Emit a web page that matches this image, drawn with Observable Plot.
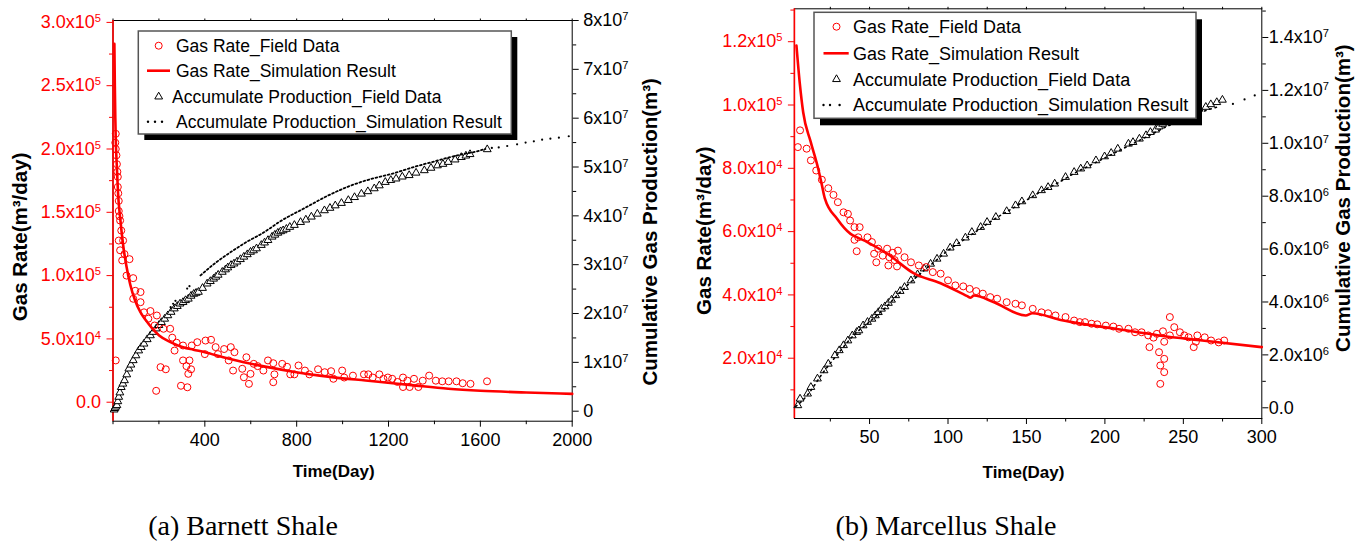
<!DOCTYPE html>
<html>
<head>
<meta charset="utf-8">
<script src="https://cdn.jsdelivr.net/npm/d3@7"></script>
<script src="https://cdn.jsdelivr.net/npm/@observablehq/plot@0.6"></script>
<style>
  html, body { margin: 0; padding: 0; background: #fff; }
  body { width: 1359px; height: 544px; position: relative; overflow: hidden;
         font-family: "Liberation Sans", Arial, sans-serif; }
  .panel { position: absolute; top: 0; }
  .panel svg { overflow: visible; }
  .cap { position: absolute; top: 510px; font-family: "Liberation Serif", "Times New Roman", serif;
         font-size: 28px; color: #000; white-space: nowrap; transform: translateX(-50%); }
  .leg { position: absolute; left: 0; top: 0; overflow: visible; z-index: 5; }
</style>
</head>
<body>
<div id="pa" class="panel" style="left:0px"></div>
<div id="pb" class="panel" style="left:680px"></div>
<div class="cap" style="left:243px">(a) Barnett Shale</div>
<div class="cap" style="left:946px">(b) Marcellus Shale</div>
<svg id="leg" class="leg" width="1359" height="544"></svg>
<script>
const RED = "#ff0000";

// ---------------- (a) Barnett Shale ----------------
const barnettRateSim = [[6,283000],[8,250000],[10,225000],[12,208000],[17,185000],[22,165000],[31,146000],[45,123000],[59,107000],[75,93000],[97,80000],[120,71000],[144,64500],[170,58500],[201,52700],[250,47500],[305,43500],[350,41500],[400,39500],[480,35500],[570,31600],[680,27500],[798,23700],[900,21000],[1000,18800],[1100,17200],[1176,15800],[1300,13500],[1460,10600],[1600,9000],[1800,7700],[2000,6600]];

const barnettRateField = [[10,205000],[12,212000],[12,200000],[15,195000],[17,188000],[19,182000],[21,178000],[21,170000],[23,165000],[25,159000],[25,151000],[28,147000],[31,143500],[36,135600],[25,127700],[44,127700],[31,120000],[50,117000],[40,112000],[72,113000],[59,100000],[88,98000],[88,81700],[97,88000],[120,87000],[120,79000],[135,71000],[163,72000],[154,66000],[191,68500],[181,60600],[220,58000],[249,58000],[258,51000],[277,47000],[268,40800],[305,44800],[343,44800],[367,47400],[400,38000],[403,48700],[427,49300],[447,43500],[457,38000],[484,42000],[513,43500],[529,39500],[504,33000],[523,25000],[581,35500],[563,26400],[570,19700],[592,14500],[599,22400],[613,30300],[630,28500],
[12,33000],[188,9000],[207,27700],[230,26000],[296,13000],[324,11800],[305,33000],[320,28500],[333,33000],[328,22400],[340,26000],
[655,25000],[675,33000],[698,30800],[703,22000],[698,15800],[737,30300],[758,28000],[772,22000],[790,22000],[808,29000],[836,25000],[855,22000],[893,26000],[922,23700],[950,24500],[960,18500],[998,25000],[1007,19500],[1045,21000],[1093,22000],[1112,22000],[1131,19500],[1160,22000],[1178,18500],[1197,19500],[1216,18500],[1239,16000],[1263,19500],[1263,12000],[1282,17000],[1292,12000],[1311,18500],[1330,12000],[1349,17000],[1377,21000],[1406,17000],[1434,16500],[1462,16500],[1496,16500],[1523,15000],[1557,14500],[1629,16500]];

const barnettCumField = [[5,0.3e6],[8,0.6e6],[12,0.9e6],[17,1.2e6],[21,2.0e6],[25,2.9e6],[30,3.8e6],[36,4.9e6],[43,5.6e6],[50,6.3e6],[60,7.5e6],[69,8.7e6],[78,9.5e6],[88,10.4e6],[100,11.4e6],[112,12.4e6],[123,13.1e6],[135,13.8e6],[149,14.7e6],[163,15.5e6],[175,16.2e6],[188,16.9e6],[200,17.6e6],[211,18.2e6],[225,18.9e6],[239,19.6e6],[253,20.3e6],[267,21.0e6],[280,21.5e6],[292,22.0e6],[305,22.3e6],[316,22.7e6],[328,23.0e6],[340,23.6e6],[352,24.0e6],[362,24.2e6],[372,24.4e6],[390,25.2e6],[410,26.1e6],[424,26.6e6],[438,27.1e6],[448,27.5e6],[458,27.9e6],[476,28.5e6],[490,29.0e6],[500,29.4e6],[514,29.9e6],[527,30.2e6],[540,30.6e6],[555,31.1e6],[570,31.6e6],[585,32.1e6],[599,32.6e6],[612,32.9e6],[625,33.3e6],[646,34.0e6],[660,34.5e6],[675,35.0e6],[693,35.7e6],[705,36.1e6],[718,36.5e6],[730,36.8e6],[741,37.0e6],[755,37.3e6],[770,37.7e6],[790,38.1e6],[817,38.7e6],[840,39.2e6],[864,39.8e6],[890,40.4e6],[921,41.1e6],[945,41.6e6],[968,42.1e6],[995,42.6e6],[1025,43.2e6],[1052,43.8e6],[1082,44.5e6],[1110,45.0e6],[1138,45.6e6],[1160,46.2e6],[1186,46.9e6],[1210,47.3e6],[1233,47.6e6],[1260,48.0e6],[1290,48.3e6],[1320,48.8e6],[1356,49.3e6],[1385,49.8e6],[1413,50.3e6],[1437,50.6e6],[1460,51.0e6],[1490,51.5e6],[1517,52.0e6],[1537,52.3e6],[1555,52.6e6],[1630,53.6e6]];

const barnettCumSimDense = [[381,27.8e6],[450,30.5e6],[520,32.8e6],[580,34.6e6],[646,36.3e6],[740,39.2e6],[835,41.6e6],[930,44.0e6],[1025,46.0e6],[1120,47.5e6],[1214,48.6e6],[1310,50.0e6],[1404,51.2e6],[1500,52.4e6],[1593,53.3e6],[1622,53.7e6]];
const barnettCumSimDots = [[251,21.3e6],[262,22.0e6],[272,22.6e6],[323,25.1e6],[333,25.6e6],[1650,53.9e6],[1680,54.0e6],[1717,54.3e6],[1760,54.65e6],[1797,55.0e6],[1833,55.26e6],[1869,55.6e6],[1905,55.8e6],[1942,56.0e6],[1985,56.3e6]];

const barnettXTicks = [400, 800, 1200, 1600, 2000];
const barnettXMinor = [0, 200, 600, 1000, 1400, 1800];
const barnettRateTicks = [0, 5e4, 1e5, 1.5e5, 2e5, 2.5e5, 3e5];
const barnettRateLabels = ["0.0", "5.0x10^4", "1.0x10^5", "1.5x10^5", "2.0x10^5", "2.5x10^5", "3.0x10^5"];
const barnettRateMinor = [2.5e4, 7.5e4, 1.25e5, 1.75e5, 2.25e5, 2.75e5];
const barnettCumTicks = [0, 1e7, 2e7, 3e7, 4e7, 5e7, 6e7, 7e7, 8e7];
const barnettCumLabels = ["0", "1x10^7", "2x10^7", "3x10^7", "4x10^7", "5x10^7", "6x10^7", "7x10^7", "8x10^7"];
const barnettCumMinor = [5e6, 1.5e7, 2.5e7, 3.5e7, 4.5e7, 5.5e7, 6.5e7, 7.5e7];

// ---------------- (b) Marcellus Shale ----------------
const marcellusRateSim = [[3.4,118800],[5.5,107000],[7.7,97700],[12.4,88500],[17,80400],[19.5,75000],[21.5,70500],[29.4,64000],[37.9,59300],[42.1,58200],[48.5,56700],[61.3,53000],[78.3,46800],[95.3,43700],[112.3,39600],[114.4,39100],[116.5,39800],[129.3,37700],[149.5,33500],[153.8,34200],[171.8,32100],[179,31400],[206.8,29300],[234.5,27200],[262,25600],[300,23500]];

const marcellusRateField = [[4.3,86700],[5.7,92000],[9.9,86200],[12.6,82500],[16,79300],[19.6,76400],[23.7,73700],[27,71600],[29.8,69300],[33.4,66100],[36.2,65600],[37.6,63500],[40.4,61400],[43.7,61400],[40.4,57400],[42.8,58200],[41.8,53800],[48.7,58200],[51.5,56700],[52.9,53000],[54.3,50300],[55.6,54600],[58.4,52400],[61.2,54600],[62.6,51900],[62,49300],[64.8,53300],[66,51000],[67.5,49000],[68.1,54000],[72.3,51900],[76.4,50300],[81.4,49300],[86.1,48800],[90.3,47200],[95.3,46700],[100,44600],[104.7,43000],[109.7,42700],[113.8,41900],[118,41200],[122.2,40400],[126.9,39300],[131.3,38800],[137.4,37700],[143,37200],[147.1,36700],[154,35600],[159.6,34500],[163.8,34200],[168.5,33500],[174.9,33000],[180.4,31900],[184,31400],[187.3,31400],[191.5,30900],[195.1,30700],[200.6,30300],[205.4,30000],[209,29300],[215,29300],[219.2,28200],[223.4,28200],[227.6,27200],[228.4,23500],[231,26500],[233.1,27700],[234.5,21900],[235.3,17700],[235.3,11900],[237,28500],[237.8,19800],[237.8,15600],[237.8,25200],[241.4,33000],[241.4,27200],[244.2,29800],[247.8,28200],[250.6,27200],[253.3,26600],[256.6,23500],[258,25200],[258.9,27200],[263.6,26600],[267.7,25600],[272.5,25000],[276,25600]];

const marcellusCumField = [[4.3,0.09e6],[5.7,0.34e6],[10.5,0.53e6],[12.6,0.78e6],[16.8,1.1e6],[21,1.41e6],[23.7,1.66e6],[27.9,1.98e6],[30.7,2.17e6],[33.4,2.36e6],[36.2,2.54e6],[39,2.73e6],[41.8,2.86e6],[43.2,2.92e6],[45.9,3.11e6],[48.7,3.24e6],[51.5,3.36e6],[53.7,3.49e6],[55.6,3.61e6],[57.6,3.74e6],[59.8,3.83e6],[62,3.96e6],[64,4.08e6],[66.7,4.25e6],[69.5,4.41e6],[72.3,4.56e6],[76.4,4.81e6],[80.6,5.04e6],[84.8,5.26e6],[88.9,5.44e6],[93,5.63e6],[97.2,5.82e6],[101.4,6.05e6],[105.5,6.22e6],[111.1,6.43e6],[115.2,6.64e6],[120.8,6.83e6],[124.9,7.02e6],[130.5,7.21e6],[137.4,7.43e6],[143,7.65e6],[147.1,7.8e6],[154,8.03e6],[159.6,8.22e6],[163.8,8.34e6],[168,8.47e6],[174.9,8.72e6],[180.4,8.91e6],[184.6,9.04e6],[188.7,9.16e6],[194.3,9.35e6],[199.8,9.5e6],[204,9.63e6],[208.2,9.79e6],[215,9.98e6],[217.9,10.04e6],[222,10.17e6],[226.2,10.3e6],[229,10.42e6],[232.3,10.51e6],[234.5,10.63e6],[236.8,10.73e6],[242.8,10.8e6],[250,11.0e6],[255,11.15e6],[260,11.3e6],[264.3,11.37e6],[267.5,11.47e6],[271.3,11.55e6],[274.9,11.64e6]];

const marcellusCumSimDense = [[3,0.05e6],[10,0.45e6],[20,1.3e6],[30,2.05e6],[40,2.75e6],[50,3.25e6],[60,3.78e6],[70,4.4e6],[80,4.95e6],[90,5.45e6],[100,5.95e6],[110,6.35e6],[120,6.75e6],[130,7.15e6],[140,7.5e6],[150,7.85e6],[160,8.2e6],[170,8.5e6],[180,8.85e6],[190,9.15e6],[200,9.45e6],[210,9.75e6],[220,10.05e6],[230,10.35e6],[240,10.65e6],[250,10.9e6],[260,11.15e6],[272,11.38e6]];
const marcellusCumSimDots = [[281.6,11.49e6],[289,11.66e6],[295.5,11.81e6]];

const marcellusXTicks = [50, 100, 150, 200, 250, 300];
const marcellusXMinor = [25, 75, 125, 175, 225, 275];
const marcellusRateTicks = [2e4, 4e4, 6e4, 8e4, 1e5, 1.2e5];
const marcellusRateLabels = ["2.0x10^4", "4.0x10^4", "6.0x10^4", "8.0x10^4", "1.0x10^5", "1.2x10^5"];
const marcellusRateMinor = [1e4, 3e4, 5e4, 7e4, 9e4, 1.1e5, 1.3e5];
const marcellusCumTicks = [0, 2e6, 4e6, 6e6, 8e6, 1e7, 1.2e7, 1.4e7];
const marcellusCumLabels = ["0.0", "2.0x10^6", "4.0x10^6", "6.0x10^6", "8.0x10^6", "1.0x10^7", "1.2x10^7", "1.4x10^7"];
const marcellusCumMinor = [1e6, 3e6, 5e6, 7e6, 9e6, 1.1e7, 1.3e7, 1.5e7];

const legendLabels = ["Gas Rate_Field Data", "Gas Rate_Simulation Result", "Accumulate Production_Field Data", "Accumulate Production_Simulation Result"];

// ---------------- helpers ----------------
function supify(svg) {
  d3.select(svg).selectAll("text").each(function () {
    const s = this.textContent;
    if (!s.includes("^")) return;
    const [a, b] = s.split("^");
    const t = d3.select(this);
    t.text(null);
    t.append("tspan").text(a);
    t.append("tspan").attr("dy", "-0.55em").attr("font-size", "0.62em").text(b);
  });
}

function panel(cfg) {
  const y2 = d3.scaleLinear().domain(cfg.cumDomain).range(cfg.rateDomain);
  const rateMap = new Map(cfg.rateTicks.map((v, i) => [v, cfg.rateLabels[i]]));
  const cumPos = cfg.cumTicks.map(y2);
  const cumMap = new Map(cumPos.map((v, i) => [v, cfg.cumLabels[i]]));
  const fx = d => d[0], fq = d => d[1], fc = d => y2(d[1]);
  const ax = {fontSize: 18, label: null};
  const svg = Plot.plot({
    width: cfg.width, height: 490,
    marginLeft: cfg.mL, marginRight: cfg.mR, marginTop: cfg.mT, marginBottom: cfg.mB,
    style: {fontFamily: "'Liberation Sans', Arial, sans-serif", background: "transparent", color: "#000", overflow: "visible"},
    x: {domain: cfg.xDomain},
    y: {domain: cfg.rateDomain},
    marks: [
      Plot.axisX(cfg.xMinor, {...ax, anchor: "bottom", tickSize: 3.5, tickFormat: () => ""}),
      Plot.axisX(cfg.xTicks, {...ax, anchor: "bottom", tickSize: 6, tickPadding: 6, tickFormat: d => String(d)}),
      Plot.axisX(cfg.xTicks.concat(cfg.xMinor), {...ax, anchor: "top", tickSize: 2.5, tickFormat: () => ""}),
      Plot.axisY(cfg.rateMinor, {...ax, anchor: "left", tickSize: 3.5, color: RED, tickFormat: () => ""}),
      Plot.axisY(cfg.rateTicks, {...ax, anchor: "left", tickSize: 6, tickPadding: 6, color: RED, tickFormat: d => rateMap.get(d)}),
      Plot.axisY(cfg.cumMinor.map(y2), {...ax, anchor: "right", tickSize: 3.5, tickFormat: () => ""}),
      Plot.axisY(cumPos, {...ax, anchor: "right", tickSize: 6, tickPadding: cfg.rPad, tickFormat: d => cumMap.get(d)}),
      Plot.frame({stroke: "#000", strokeWidth: 1}),
      Plot.ruleX([cfg.xDomain[0]], {stroke: RED, strokeWidth: 1.6}),
      Plot.dot(cfg.cumField, {x: fx, y: fc, symbol: "triangle", r: 2.9, stroke: "#000", strokeWidth: 1, fill: "#fff"}),
      Plot.line(cfg.cumSimDense, {x: fx, y: fc, stroke: "#000", strokeWidth: cfg.dashW, strokeDasharray: cfg.dash, curve: "monotone-x"}),
      Plot.dot(cfg.cumSimDots, {x: fx, y: fc, r: 1.1, fill: "#000"}),
      Plot.dot(cfg.rateField, {x: fx, y: fq, r: 3.5, stroke: RED, strokeWidth: 1, fill: "none"}),
      Plot.line(cfg.rateSim, {x: fx, y: fq, stroke: RED, strokeWidth: 2.6, curve: "monotone-x"}),
      Plot.text(["Gas Rate(m³/day)"], {text: d => d, frameAnchor: "left", dx: cfg.tL[0], dy: cfg.tL[1], rotate: -90, textAnchor: "middle", fontWeight: "bold", fontSize: 20.5, fill: "#000"}),
      Plot.text(["Cumulative Gas Production(m³)"], {text: d => d, frameAnchor: "right", dx: cfg.tR[0], dy: cfg.tR[1], rotate: -90, textAnchor: "middle", fontWeight: "bold", fontSize: 20.5, fill: "#000"}),
      Plot.text(["Time(Day)"], {text: d => d, frameAnchor: "bottom", dx: cfg.tB[0], dy: cfg.tB[1], textAnchor: "middle", fontWeight: "bold", fontSize: 17, fill: "#000"})
    ]
  });
  supify(svg);
  return svg;
}

document.getElementById("pa").appendChild(panel({
  width: 680, mL: 112.5, mR: 108.3, mT: 20, mB: 69.3,
  xDomain: [0, 2000], rateDomain: [-15000, 301500], cumDomain: [-2.05e6, 8.0e7],
  xTicks: barnettXTicks, xMinor: barnettXMinor,
  rateTicks: barnettRateTicks, rateLabels: barnettRateLabels, rateMinor: barnettRateMinor,
  cumTicks: barnettCumTicks, cumLabels: barnettCumLabels, cumMinor: barnettCumMinor,
  rateSim: barnettRateSim, rateField: barnettRateField, cumField: barnettCumField,
  cumSimDense: barnettCumSimDense, cumSimDots: barnettCumSimDots,
  dash: "1.8 2.4", dashW: 1.8, rPad: 5,
  tL: [-93, 16], tR: [78, 11], tB: [-9, 56]
}));

document.getElementById("pb").appendChild(panel({
  width: 679, mL: 113.9, mR: 97.7, mT: 8.3, mB: 72,
  xDomain: [2.1, 300], rateDomain: [950, 130400], cumDomain: [-4.05e5, 1.5085e7],
  xTicks: marcellusXTicks, xMinor: marcellusXMinor,
  rateTicks: marcellusRateTicks, rateLabels: marcellusRateLabels, rateMinor: marcellusRateMinor,
  cumTicks: marcellusCumTicks, cumLabels: marcellusCumLabels, cumMinor: marcellusCumMinor,
  rateSim: marcellusRateSim, rateField: marcellusRateField, cumField: marcellusCumField,
  cumSimDense: marcellusCumSimDense, cumSimDots: marcellusCumSimDots,
  dash: "1.5 4", dashW: 1.6, rPad: 1,
  tL: [-90, 17], tR: [82, -15.5], tB: [-4.6, 59]
}));

// ---------------- legends ----------------
const leg = d3.select("#leg");
function drawLegend(o) {
  const g = leg.append("g");
  g.append("rect").attr("x", o.x + o.sh[0]).attr("y", o.y + o.sh[1]).attr("width", o.w).attr("height", o.h).attr("fill", "#000");
  g.append("rect").attr("x", o.x).attr("y", o.y).attr("width", o.w).attr("height", o.h).attr("fill", "#fff").attr("stroke", "#555").attr("stroke-width", 1.5);
  const sx = o.symX;
  g.append("circle").attr("cx", sx).attr("cy", o.rows[0]).attr("r", 3.5).attr("fill", "none").attr("stroke", RED);
  g.append("line").attr("x1", o.line[0]).attr("x2", o.line[1]).attr("y1", o.rows[1]).attr("y2", o.rows[1]).attr("stroke", RED).attr("stroke-width", 2.6);
  g.append("path").attr("d", d3.symbol(d3.symbolTriangle, Math.PI * 2.9 * 2.9)()).attr("transform", `translate(${sx},${o.rows[2]})`).attr("fill", "#fff").attr("stroke", "#000");
  o.dots.forEach(dx => g.append("circle").attr("cx", dx).attr("cy", o.rows[3]).attr("r", 1.2).attr("fill", "#000"));
  legendLabels.forEach((t, i) => {
    g.append("text").attr("x", o.textX[i]).attr("y", o.rows[i]).attr("dy", "0.36em")
      .attr("font-size", o.fs).attr("font-family", "'Liberation Sans', Arial, sans-serif").attr("fill", "#000").text(t);
  });
}
drawLegend({x: 138.3, y: 31, w: 373, h: 103, sh: [6, 6], rows: [45.7, 70.7, 96.7, 121.7], symX: 158.7, fs: 17.5,
  line: [147, 170], dots: [148, 155, 162], textX: [176, 176, 172, 176]});
drawLegend({x: 814, y: 12.3, w: 382, h: 106, sh: [6, 7], rows: [26.7, 53.3, 79.3, 105], symX: 836.5, fs: 18,
  line: [823.5, 848.7], dots: [823.5, 830, 839.6], textX: [853, 853, 853, 853]});
</script>
</body>
</html>
